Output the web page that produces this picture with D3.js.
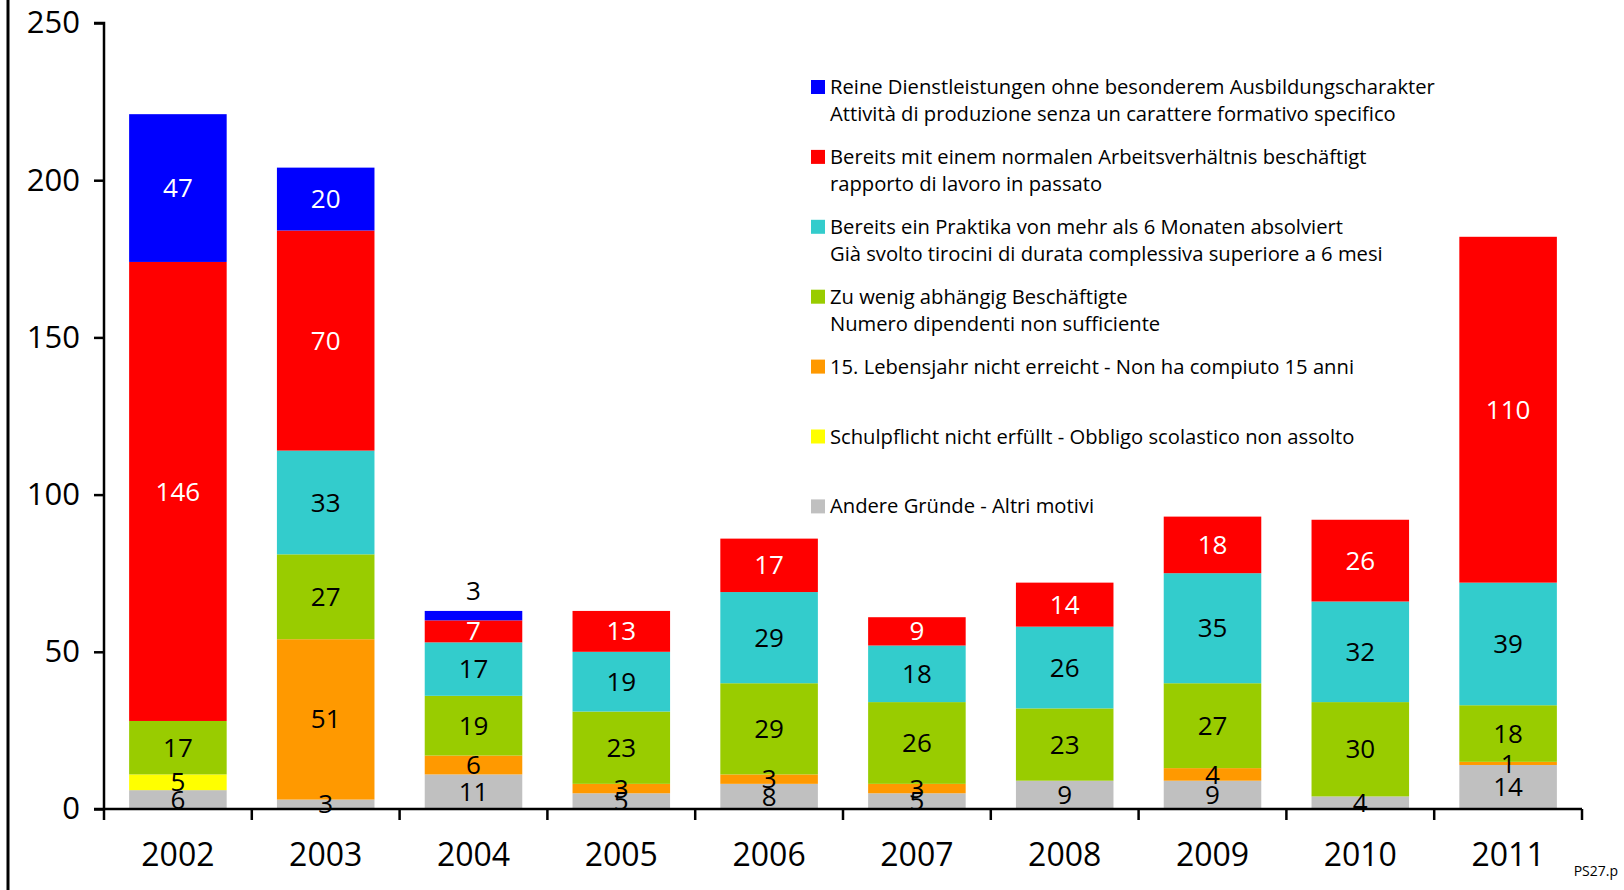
<!DOCTYPE html>
<html lang="de">
  <head>
    <meta charset="UTF-8" />
    <title>Gründe Ablehnung Praktika</title>
    <script src="https://d3js.org/d3.v7.min.js"></script>
    <style>
      body {
        margin: 0;
        background: #fff;
      }
      svg text {
        font-family: "Open Sans", sans-serif;
      }
    </style>
  </head>
  <body>
    <svg width="1624" height="890"></svg>
    <script>
      // data, stack order bottom -> top
      const years = ["2002", "2003", "2004", "2005", "2006", "2007", "2008", "2009", "2010", "2011"];
      const andere = [6, 3, 11, 5, 8, 5, 9, 9, 4, 14];
      const schulpflicht = [5, 0, 0, 0, 0, 0, 0, 0, 0, 0];
      const lebensjahr = [0, 51, 6, 3, 3, 3, 0, 4, 0, 1];
      const zuWenig = [17, 27, 19, 23, 29, 26, 23, 27, 30, 18];
      const praktika = [0, 33, 17, 19, 29, 18, 26, 35, 32, 39];
      const arbeit = [146, 70, 7, 13, 17, 9, 14, 18, 26, 110];
      const dienst = [47, 20, 3, 0, 0, 0, 0, 0, 0, 0];
      const yTicks = [0, 50, 100, 150, 200, 250];

      const series = [
        { key: "andere", values: andere, color: "#c0c0c0", text: "#000",
          label: ["Andere Gründe - Altri motivi"] },
        { key: "schulpflicht", values: schulpflicht, color: "#ffff00", text: "#000",
          label: ["Schulpflicht nicht erfüllt - Obbligo scolastico non assolto"] },
        { key: "lebensjahr", values: lebensjahr, color: "#ff9900", text: "#000",
          label: ["15. Lebensjahr nicht erreicht - Non ha compiuto 15 anni"] },
        { key: "zuWenig", values: zuWenig, color: "#99cc00", text: "#000",
          label: ["Zu wenig abhängig Beschäftigte", "Numero dipendenti non sufficiente"] },
        { key: "praktika", values: praktika, color: "#33cccc", text: "#000",
          label: ["Bereits ein Praktika von mehr als 6 Monaten absolviert",
                  "Già svolto tirocini di durata complessiva superiore a 6 mesi"] },
        { key: "arbeit", values: arbeit, color: "#ff0000", text: "#fff",
          label: ["Bereits mit einem normalen Arbeitsverhältnis beschäftigt",
                  "rapporto di lavoro in passato"] },
        { key: "dienst", values: dienst, color: "#0000ff", text: "#fff",
          label: ["Reine Dienstleistungen ohne besonderem Ausbildungscharakter",
                  "Attività di produzione senza un carattere formativo specifico"] }
      ];

      const svg = d3.select("svg");

      const x = d3.scaleBand().domain(years).range([104, 1582]).paddingInner(0.34).paddingOuter(0.17);
      const xTick = d3.scaleBand().domain(years).range([104, 1582]);
      const y = d3.scaleLinear().domain([0, 250]).range([809, 23]);

      // left border line
      svg.append("line")
        .attr("x1", 8).attr("x2", 8).attr("y1", 0).attr("y2", 890)
        .attr("stroke", "#000").attr("stroke-width", 3);

      // build stacked table
      const table = years.map((yr, i) => {
        const row = { year: yr };
        series.forEach((s) => (row[s.key] = s.values[i]));
        return row;
      });
      const stack = d3.stack().keys(series.map((s) => s.key))(table);

      const layers = svg.append("g")
        .selectAll("g")
        .data(stack)
        .join("g")
        .attr("fill", (d, i) => series[i].color);

      layers.selectAll("rect")
        .data((d) => d)
        .join("rect")
        .attr("x", (d) => x(d.data.year))
        .attr("width", x.bandwidth())
        .attr("y", (d) => y(d[1]))
        .attr("height", (d) => y(d[0]) - y(d[1]));

      // axes
      const yAxis = svg.append("g")
        .attr("transform", "translate(104,0)")
        .call(d3.axisLeft(y).tickValues(yTicks).tickSize(10).tickPadding(14));
      yAxis.select(".domain").attr("stroke-width", 2.5).attr("d", "M0,809V23H-10");
      yAxis.selectAll(".tick line").attr("stroke-width", 2.5);
      yAxis.selectAll(".tick text").attr("font-size", 31).attr("fill", "#000");

      const xAxis = svg.append("g").attr("transform", "translate(0,809)");
      xAxis.append("line")
        .attr("x1", 94).attr("x2", 1582).attr("y1", 0).attr("y2", 0)
        .attr("stroke", "#000").attr("stroke-width", 2.5);
      const bounds = years.map((yr) => xTick(yr)).concat([xTick.range()[1]]);
      xAxis.selectAll(".xt")
        .data(bounds)
        .join("line")
        .attr("class", "xt")
        .attr("x1", (d) => d).attr("x2", (d) => d)
        .attr("y1", 0).attr("y2", 11)
        .attr("stroke", "#000").attr("stroke-width", 2.5);
      xAxis.selectAll(".xl")
        .data(years)
        .join("text")
        .attr("class", "xl")
        .attr("x", (d) => x(d) + x.bandwidth() / 2)
        .attr("y", 46)
        .attr("dy", "0.35em")
        .attr("text-anchor", "middle")
        .attr("font-size", 32)
        .text((d) => d);

      // value labels
      const labels = svg.append("g");
      stack.forEach((layer, li) => {
        const s = series[li];
        layer.forEach((d) => {
          const v = d[1] - d[0];
          if (v <= 0) return;
          const top = li === series.length - 1 && v < 5;
          labels.append("text")
            .attr("x", x(d.data.year) + x.bandwidth() / 2)
            .attr("y", top ? y(d[1]) - 20 : y((d[0] + d[1]) / 2))
            .attr("dy", "0.35em")
            .attr("text-anchor", "middle")
            .attr("font-size", 26)
            .attr("fill", top ? "#000" : s.text)
            .text(v);
        });
      });

      // legend (top entry = top of stack)
      const legend = svg.append("g").attr("transform", "translate(811,87)");
      const entries = series.slice().reverse();
      const item = legend.selectAll("g")
        .data(entries)
        .join("g")
        .attr("transform", (d, i) => `translate(0,${i * 69.9})`);
      item.append("rect")
        .attr("x", 0).attr("y", -7).attr("width", 14).attr("height", 14)
        .attr("fill", (d) => d.color);
      item.each(function (d) {
        d3.select(this).selectAll("text")
          .data(d.label)
          .join("text")
          .attr("x", 19)
          .attr("y", (t, j) => j * 26.8)
          .attr("dy", "0.35em")
          .attr("font-size", 20.2)
          .text((t) => t);
      });

      svg.append("text")
        .attr("x", 1618).attr("y", 876)
        .attr("text-anchor", "end")
        .attr("font-size", 14)
        .text("PS27.p");
    </script>
  </body>
</html>
